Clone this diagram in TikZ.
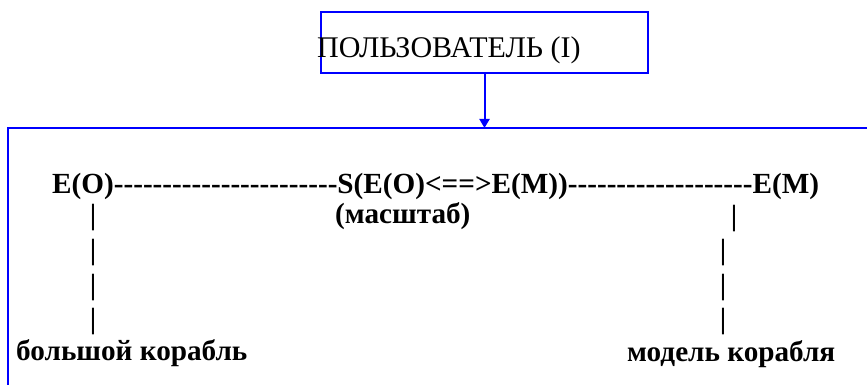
\documentclass[tikz,border=0pt]{standalone}
\usepackage{fontspec}
\setmainfont{Liberation Serif}[Ligatures=TeXOff]
\usetikzlibrary{arrows.meta}

\begin{document}
\begin{tikzpicture}[x=1pt,y=-1pt,
  blueline/.style={draw=blue, line width=1.6pt},
  userbox/.style={draw=blue, line width=2pt, minimum width=327pt, minimum height=61pt, inner sep=0pt},
  txt/.style={anchor=base west, inner sep=0pt, font=\fontsize{30}{34}\selectfont},
  btxt/.style={anchor=base west, inner sep=0pt, font=\fontsize{29.2}{34}\selectfont\bfseries},
  bar/.style={anchor=base, inner sep=0pt, font=\fontsize{29.2}{34}\selectfont\bfseries}]

\useasboundingbox (0,0) rectangle (867,385);
\clip (0,0) rectangle (867,385);

% user box at the top
\node[userbox] (user) at (484.5,42.5) {};
\node[txt] (usertxt) at (317,57.5) {ПОЛЬЗОВАТЕЛЬ (I)};

% open frame below
\coordinate (fcorner) at (8,128);
\coordinate (fleft) at (8,395);
\coordinate (fright) at (880,128);
\coordinate (ftop) at (user.south |- fcorner);
\draw[blueline] (fleft) -- (fcorner) -- (fright);
\draw[draw=blue, line width=2pt, -{Triangle[length=9pt,width=10pt]}] (user.south) -- (ftop);

% scale relation line
\node[btxt] (relation) at (52,193) {E(O)-----------------------S(E(O)<==>E(M))-------------------E(M)};
\node[btxt] (scale) at (335,223) {(масштаб)};

% left column: big ship
\node[bar] (l1) at (93,224) {|};
\node[bar] (l2) at (93,259) {|};
\node[bar] (l3) at (93,294) {|};
\node[bar] (l4) at (93,328) {|};
\node[btxt] (bigship) at (16,360) {большой корабль};

% right column: ship model
\node[bar] (r1) at (734,225) {|};
\node[bar] (r2) at (723,259) {|};
\node[bar] (r3) at (723,294) {|};
\node[bar] (r4) at (723,328) {|};
\node[btxt] (model) at (627,361) {модель корабля};

\end{tikzpicture}
\end{document}
